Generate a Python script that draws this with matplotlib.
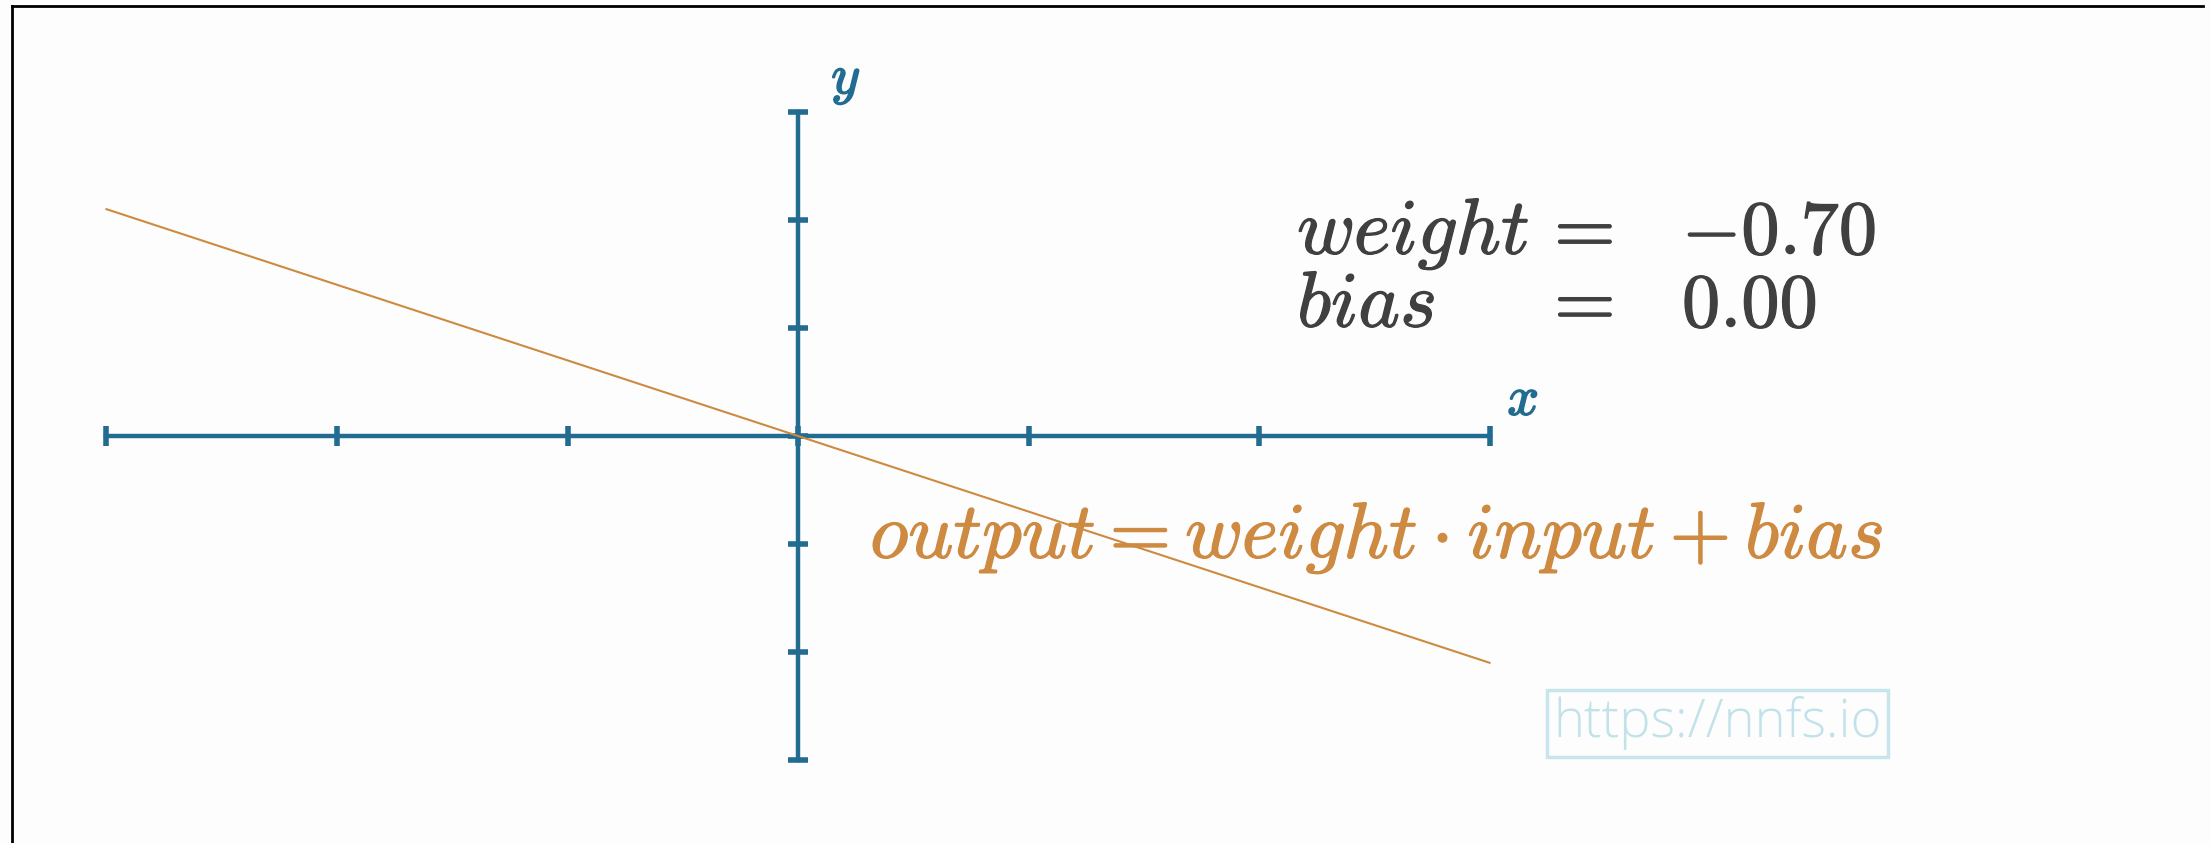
import numpy as np
import matplotlib
matplotlib.use('Agg')
from matplotlib import pyplot as plt
from matplotlib.lines import Line2D
import matplotlib.patheffects as pe

plt.rcParams['mathtext.fontset'] = 'cm'

# data
line_x = [-3, 3]
line_y = [2.1, -2.1]
weight = -0.70
bias = 0.00
ticks = [-3, -2, -1, 0, 1, 2, 3]

blue = '#226c91'
orange = '#cd8a40'
grey = '#404040'

fig = plt.figure(figsize=(22.11, 8.43), dpi=100, facecolor='#fdfdfd')
ax = fig.add_axes([0, 0, 1, 1], facecolor='#fdfdfd')

# axis ranges (0,0 sits at 798 px / 436 px)
ax.set_xlim(-3.462, 6.130)
ax.set_ylim(-3.769, 4.037)

for s in ['top', 'right']:
    ax.spines[s].set_visible(False)
for s in ['left', 'bottom']:
    ax.spines[s].set_position(('data', 0))
    ax.spines[s].set_bounds(-3, 3)
    ax.spines[s].set_color(blue)
    ax.spines[s].set_linewidth(3.2)
    ax.spines[s].set_zorder(1)

ax.set_xticks(ticks)
ax.set_yticks(ticks)
ax.tick_params(direction='inout', length=15, width=4, color=blue,
               labelbottom=False, labelleft=False)

# the line
ax.plot(line_x, line_y, color=orange, lw=1.5, zorder=3)

# labels
stroke_b = [pe.withStroke(linewidth=1.2, foreground=blue)]
stroke_g = [pe.withStroke(linewidth=0.9, foreground=grey)]
stroke_o = [pe.withStroke(linewidth=0.9, foreground=orange)]
ax.text(3.145, 0.333, '$x$', color=blue, fontsize=40, ha='center', va='center',
        path_effects=stroke_b)
ax.text(0.208, 3.296, '$y$', color=blue, fontsize=40, ha='center', va='center',
        path_effects=stroke_b)

fs = 57
ax.text(2.165, 1.685, '$weight$', color=grey, fontsize=fs, ha='left', va='baseline', path_effects=stroke_g)
ax.text(2.165, 1.01, '$bias$', color=grey, fontsize=fs, ha='left', va='baseline', path_effects=stroke_g)
ax.text(3.22, 1.685, '$=$', color=grey, fontsize=fs, ha='left', va='baseline', path_effects=stroke_g)
ax.text(3.22, 1.01, '$=$', color=grey, fontsize=fs, ha='left', va='baseline', path_effects=stroke_g)
ax.text(3.835, 1.685, '$%.2f$' % weight, color=grey, fontsize=55, ha='left', va='baseline', path_effects=stroke_g)
ax.text(3.835, 1.01, '$%.2f$' % bias, color=grey, fontsize=55, ha='left', va='baseline', path_effects=stroke_g)

ax.text(0.312, -1.13, r'$output = weight \cdot input + bias$', color=orange,
        fontsize=fs, ha='left', va='baseline', path_effects=stroke_o)

# watermark
ax.text(3.99, -2.66, 'https://nnfs.io', color='#c2e2ea', fontsize=38,
        family='Open Sans', fontweight='light', ha='center', va='center',
        bbox=dict(boxstyle='square,pad=0.12', fc='none', ec='#c8e5ec', lw=2.5))

# frame lines on left and top
fig.add_artist(Line2D([12 / 2211, 12 / 2211], [0, 1 - 6 / 843], color='black', lw=2))
fig.add_artist(Line2D([12 / 2211, 2203 / 2211], [1 - 6 / 843, 1 - 6 / 843], color='black', lw=2))

fig.savefig('out.png', dpi=100, facecolor=fig.get_facecolor())
